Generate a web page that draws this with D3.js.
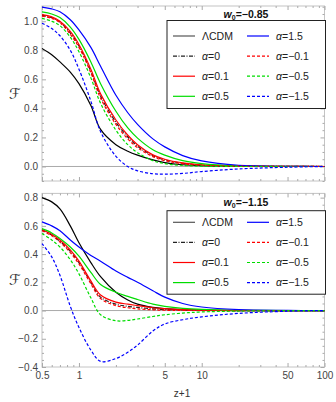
<!DOCTYPE html>
<html>
<head>
<meta charset="utf-8">
<script src="https://cdn.jsdelivr.net/npm/d3@7"></script>
<style>
  body { margin: 0; background: #fff; }
  svg { display: block; font-family: "Liberation Sans", Arial, sans-serif; }
</style>
</head>
<body>
<div id="chart"></div>
<script>
// z+1 sample points (log axis)
const zp1 = [0.5, 0.6, 0.7, 0.85, 1, 1.25, 1.5, 2, 2.5, 3, 4, 5, 7, 10, 20, 50, 100];

const seriesNames = ["ΛCDM", "0", "0.1", "0.5", "1.5", "−0.1", "−0.5", "−1.5"];

// w0 = -0.85
const topLCDM = [0.813, 0.77, 0.72, 0.65, 0.57, 0.42, 0.255, 0.15, 0.105, 0.078, 0.045, 0.027, 0.012, 0.005, 0.001, 0, 0];
const topA0   = [1.04, 1.025, 0.995, 0.92, 0.83, 0.655, 0.485, 0.305, 0.203, 0.14, 0.074, 0.045, 0.022, 0.01, 0.003, 0.001, 0];
const topA01  = [1.045, 1.03, 1.0, 0.93, 0.84, 0.67, 0.50, 0.32, 0.215, 0.15, 0.08, 0.05, 0.025, 0.012, 0.003, 0.001, 0];
const topA05  = [1.064, 1.05, 1.025, 0.96, 0.875, 0.72, 0.57, 0.38, 0.265, 0.195, 0.115, 0.078, 0.04, 0.02, 0.005, 0.001, 0];
const topA15  = [1.097, 1.085, 1.065, 1.01, 0.94, 0.82, 0.69, 0.49, 0.37, 0.29, 0.19, 0.135, 0.075, 0.038, 0.008, 0.001, 0];
const topAm01 = [1.035, 1.02, 0.99, 0.91, 0.82, 0.645, 0.47, 0.29, 0.19, 0.13, 0.068, 0.04, 0.019, 0.008, 0.002, 0.001, 0];
const topAm05 = [1.02, 1.0, 0.97, 0.89, 0.79, 0.61, 0.435, 0.25, 0.15, 0.095, 0.04, 0.02, 0.007, 0.002, 0, 0, 0];
const topAm15 = [0.986, 0.95, 0.90, 0.80, 0.67, 0.45, 0.24, 0.07, 0.0, -0.03, -0.05, -0.053, -0.048, -0.035, -0.017, -0.005, 0];

// w0 = -1.15
const botLCDM = [0.80, 0.77, 0.72, 0.60, 0.48, 0.34, 0.24, 0.13, 0.075, 0.045, 0.022, 0.013, 0.006, 0.002, 0, 0, 0];
const botA0   = [0.57, 0.535, 0.49, 0.42, 0.34, 0.20, 0.095, 0.045, 0.03, 0.022, 0.012, 0.007, 0.003, 0.001, 0, 0, 0];
const botA01  = [0.574, 0.54, 0.50, 0.43, 0.35, 0.21, 0.11, 0.06, 0.045, 0.035, 0.02, 0.013, 0.007, 0.003, 0.001, 0, 0];
const botA05  = [0.58, 0.55, 0.51, 0.45, 0.385, 0.27, 0.185, 0.13, 0.10, 0.078, 0.045, 0.03, 0.016, 0.008, 0.002, 0, 0];
const botA15  = [0.628, 0.60, 0.565, 0.50, 0.45, 0.39, 0.35, 0.28, 0.235, 0.20, 0.14, 0.095, 0.05, 0.025, 0.006, 0.001, 0];
const botAm01 = [0.565, 0.53, 0.485, 0.41, 0.33, 0.19, 0.085, 0.035, 0.02, 0.012, 0.005, 0.002, 0.001, 0, 0, 0, 0];
const botAm05 = [0.546, 0.50, 0.45, 0.36, 0.26, 0.09, -0.03, -0.072, -0.07, -0.06, -0.042, -0.03, -0.018, -0.01, -0.004, -0.001, 0];
const botAm15 = [0.475, 0.38, 0.25, 0.03, -0.12, -0.28, -0.36, -0.34, -0.295, -0.245, -0.145, -0.095, -0.065, -0.045, -0.02, -0.005, 0];

const xMajor = [0.5, 1, 5, 10, 50, 100];
const xMinor = [0.6, 0.7, 0.8, 0.9, 2, 3, 4, 6, 7, 8, 9, 20, 30, 40, 60, 70, 80, 90];

const styles = [
  { color: "#000", dash: null },
  { color: "#222", dash: "4,1.5,1,1.5" },
  { color: "#f00", dash: null },
  { color: "#0d0", dash: null },
  { color: "#00f", dash: null },
  { color: "#f00", dash: "3,2" },
  { color: "#0d0", dash: "3,2" },
  { color: "#00f", dash: "3,2" }
];

const width = 336, height = 402;
const left = 42, right = 324.5;

const svg = d3.select("#chart").append("svg")
  .attr("width", width)
  .attr("height", height);

const x = d3.scaleLog().domain([0.5, 100]).range([left, right]);

function panel(cfg) {
  const y = d3.scaleLinear().domain(cfg.domain).range([cfg.bottom, cfg.top]);
  const g = svg.append("g");

  // zero line
  g.append("line")
    .attr("x1", left).attr("x2", right)
    .attr("y1", y(0)).attr("y2", y(0))
    .attr("stroke", "#aaa").attr("stroke-width", 1);

  // frame
  g.append("rect")
    .attr("x", left).attr("y", cfg.top)
    .attr("width", right - left).attr("height", cfg.bottom - cfg.top)
    .attr("fill", "none").attr("stroke", "#c4c4c4").attr("stroke-width", 1);

  const yMajor = d3.range(cfg.yTicks[0], cfg.yTicks[1] + 1e-9, 0.2);
  const yMinor = d3.range(cfg.domain[0], cfg.domain[1], 0.05)
    .map(v => Math.round(v * 100) / 100)
    .filter(v => !yMajor.some(m => Math.abs(m - v) < 1e-6));

  const axes = [
    [d3.axisLeft(y).tickValues(yMajor).tickSize(-4).tickPadding(4).tickFormat(d3.format(".1f")), `translate(${left},0)`],
    [d3.axisLeft(y).tickValues(yMinor).tickSize(-2).tickFormat(""), `translate(${left},0)`],
    [d3.axisRight(y).tickValues(yMajor).tickSize(-4).tickFormat(""), `translate(${right},0)`],
    [d3.axisRight(y).tickValues(yMinor).tickSize(-2).tickFormat(""), `translate(${right},0)`],
    [d3.axisBottom(x).tickValues(xMajor).tickSize(-4).tickPadding(5)
      .tickFormat(cfg.xLabels ? d3.format("") : ""), `translate(0,${cfg.bottom})`],
    [d3.axisBottom(x).tickValues(xMinor).tickSize(-2).tickFormat(""), `translate(0,${cfg.bottom})`],
    [d3.axisTop(x).tickValues(xMajor).tickSize(-4).tickFormat(""), `translate(0,${cfg.top})`],
    [d3.axisTop(x).tickValues(xMinor).tickSize(-2).tickFormat(""), `translate(0,${cfg.top})`]
  ];
  axes.forEach(([ax, tr]) => {
    const a = g.append("g").attr("transform", tr).call(ax);
    a.select(".domain").remove();
    a.selectAll("line").attr("stroke", "#aaa");
    a.selectAll("text").attr("fill", "#444")
      .style("font-size", "10px")
      .style("font-family", "'Liberation Sans', Arial, sans-serif");
  });

  // curves
  const line = d3.line()
    .x((d, i) => x(zp1[i]))
    .y(d => y(d))
    .curve(d3.curveCatmullRom.alpha(0.5));

  cfg.series.forEach((s, i) => {
    g.append("path")
      .datum(s)
      .attr("d", line)
      .attr("fill", "none")
      .attr("stroke", styles[i].color)
      .attr("stroke-width", 1.2)
      .attr("stroke-dasharray", styles[i].dash);
  });

  // y label
  g.append("text")
    .attr("x", 15).attr("y", (cfg.top + cfg.bottom) / 2 + 5)
    .attr("text-anchor", "middle")
    .style("font-family", "'DejaVu Sans', sans-serif")
    .style("font-size", "15px")
    .attr("fill", "#333")
    .text("ℱ");

  // legend
  const lg = g.append("g");
  lg.append("rect")
    .attr("x", 167).attr("y", cfg.legTop)
    .attr("width", 158.5).attr("height", cfg.legH)
    .attr("fill", "#fff").attr("stroke", "#222").attr("stroke-width", 1);

  seriesNames.forEach((name, i) => {
    const col = Math.floor(i / 4), row = i % 4;
    const cy = cfg.legRow0 + row * 20.1;
    const lx = col === 0 ? 173 : 247;
    lg.append("line")
      .attr("x1", lx).attr("x2", lx + 22)
      .attr("y1", cy).attr("y2", cy)
      .attr("stroke", i === 0 ? "#555" : styles[i].color)
      .attr("stroke-width", 1.2)
      .attr("stroke-dasharray", styles[i].dash);
    const tx = lg.append("text")
      .attr("x", lx + 29).attr("y", cy + 3.8)
      .style("font-size", "10.5px")
      .attr("fill", "#222");
    if (i === 0) {
      tx.text(name);
    } else {
      tx.append("tspan").style("font-style", "italic").text("α");
      tx.append("tspan").text("=" + name);
    }
  });

  // title
  const t = g.append("text")
    .attr("x", 246).attr("y", cfg.titleY)
    .attr("text-anchor", "middle")
    .style("font-size", "10.5px")
    .style("font-weight", "bold")
    .attr("fill", "#111");
  t.append("tspan").style("font-style", "italic").text("w");
  t.append("tspan").attr("dy", 2).style("font-size", "7px").text("0");
  t.append("tspan").attr("dy", -2).text("=" + cfg.title);
}

panel({
  domain: [-0.1, 1.105], top: 6, bottom: 181, yTicks: [0, 1.0],
  series: [topLCDM, topA0, topA01, topA05, topA15, topAm01, topAm05, topAm15],
  xLabels: false, title: "−0.85", titleY: 18,
  legTop: 20.5, legH: 88, legRow0: 36
});

panel({
  domain: [-0.4, 0.83], top: 193.4, bottom: 367, yTicks: [-0.4, 0.8],
  series: [botLCDM, botA0, botA01, botA05, botA15, botAm01, botAm05, botAm15],
  xLabels: true, title: "−1.15", titleY: 206,
  legTop: 210.7, legH: 83.5, legRow0: 222.3
});

// x label
svg.append("text")
  .attr("x", 182).attr("y", 397)
  .attr("text-anchor", "middle")
  .style("font-size", "10px")
  .attr("fill", "#333")
  .text("z+1");
</script>
</body>
</html>
